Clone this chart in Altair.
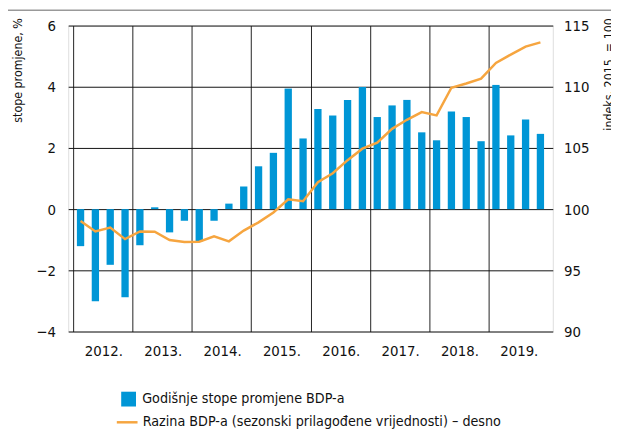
import altair as alt
import pandas as pd

years = [2012, 2013, 2014, 2015, 2016, 2017, 2018, 2019]
quarters = ["I.", "II.", "III.", "IV."]

# Annual growth rates of GDP, % (quarterly)
gdp_growth = [
    -1.21, -3.01, -1.82, -2.88,
    -1.18, 0.06, -0.76, -0.38,
    -1.05, -0.38, 0.18, 0.74,
    1.40, 1.84, 3.94, 2.31,
    3.27, 3.06, 3.57, 3.99,
    3.01, 3.39, 3.57, 2.51,
    2.25, 3.19, 3.01, 2.22,
    4.06, 2.41, 2.93, 2.46,
]

# GDP level, seasonally adjusted, index 2015 = 100
gdp_index = [
    99.03, 98.17, 98.49, 97.55,
    98.17, 98.15, 97.47, 97.31,
    97.34, 97.77, 97.37, 98.25,
    98.92, 99.73, 100.81, 100.65,
    102.20, 102.93, 104.00, 104.94,
    105.43, 106.56, 107.30, 107.93,
    107.66, 109.92, 110.27, 110.67,
    111.94, 112.63, 113.28, 113.63,
]

bar_label = "Godišnje stope promjene BDP-a"
line_label = "Razina BDP-a (sezonski prilagođene vrijednosti) – desno"

rows = []
for yi, y in enumerate(years):
    for qi, q in enumerate(quarters):
        t = yi * 4 + qi
        rows.append({
            "year": y, "quarter": q, "pos": t + 0.5,
            "growth": gdp_growth[t], "index": gdp_index[t],
            "s1": bar_label, "s2": line_label,
        })
df = pd.DataFrame(rows)

FONT = "DejaVu Sans Condensed, sans-serif"
BLUE = "#0096d6"
ORANGE = "#f6a53f"
TXT = "#111"
W, H = 491, 310
n_q = len(years) * 4

year_arr = "[" + ",".join(str(y) for y in years) + "]"

x_enc = alt.X(
    "pos:Q",
    scale=alt.Scale(domain=[0, n_q], nice=False, zero=False),
    axis=alt.Axis(
        values=list(range(0, n_q, 4)),
        labelExpr=f"{year_arr}[datum.value/4] + '.'",
        labelOffset=W / len(years) / 2,
        labelOverlap=False, labelFlush=False, labelBound=False,
        grid=True, gridColor="#222", gridWidth=1, gridOpacity=1,
        ticks=False, domain=False, title=None,
        labelPadding=12, labelFontSize=15, labelFont=FONT, labelColor=TXT,
    ),
)

bars = alt.Chart(df).mark_bar(size=7.4).encode(
    x=x_enc,
    y=alt.Y(
        "growth:Q",
        scale=alt.Scale(domain=[-4, 6], nice=False),
        axis=alt.Axis(
            orient="left", values=[-4, -2, 0, 2, 4, 6],
            labelExpr="replace(format(datum.value, 'd'), '-', '−')",
            grid=True, gridColor="#111", gridWidth=1, gridOpacity=1,
            ticks=False, domain=False,
            labelPadding=13, labelFontSize=15, labelFont=FONT, labelColor=TXT,
            title="stope promjene, %", titleFont=FONT, titleFontSize=12.5,
            titleFontWeight="normal", titleColor=TXT,
            titleAngle=270, titleAlign="right", titleBaseline="alphabetic",
            titleX=-47, titleY=-8,
        ),
    ),
    fill=alt.Fill(
        "s1:N",
        scale=alt.Scale(domain=[bar_label], range=[BLUE]),
        legend=alt.Legend(
            orient="none", legendX=53.7, legendY=371, title=None,
            symbolType="square", symbolSize=225, symbolStrokeWidth=0,
            labelFont=FONT, labelFontSize=14.4, labelColor=TXT, labelLimit=0,
            labelOffset=6.3, padding=0,
        ),
    ),
)

line = alt.Chart(df).mark_line(strokeWidth=2.5).encode(
    x=alt.X("pos:Q"),
    y=alt.Y(
        "index:Q",
        scale=alt.Scale(domain=[90, 115], nice=False, zero=False),
        axis=alt.Axis(
            orient="right", values=[90, 95, 100, 105, 110, 115],
            grid=False, ticks=False, domain=False,
            labelPadding=11, labelFontSize=15, labelFont=FONT, labelColor=TXT,
            title="indeks, 2015. = 100", titleFont=FONT, titleFontSize=12.5,
            titleFontWeight="normal", titleColor=TXT,
            titleAngle=270, titleAlign="right", titleBaseline="alphabetic",
            titleX=61, titleY=-8,
        ),
    ),
    stroke=alt.Stroke(
        "s2:N",
        scale=alt.Scale(domain=[line_label], range=[ORANGE]),
        legend=alt.Legend(
            orient="none", legendX=47.75, legendY=390, title=None,
            symbolType="stroke", symbolSize=441, symbolStrokeWidth=2.5,
            labelFont=FONT, labelFontSize=14.4, labelColor=TXT, labelLimit=0,
            labelOffset=3.75, padding=0,
        ),
    ),
)

top_rule = alt.Chart(pd.DataFrame({"a": [0]})).mark_rule(
    color="#999", strokeWidth=1.5
).encode(x=alt.value(-61), x2=alt.value(550), y=alt.value(-15.5))

chart = (
    alt.layer(bars, line, top_rule)
    .resolve_scale(y="independent")
    .properties(
        width=W, height=H,
        autosize=alt.AutoSizeParams(type="none"),
        padding={"left": 61, "top": 15, "right": 59, "bottom": 97},
    )
    .configure_view(stroke="#111", strokeWidth=1)
    .configure(background="white")
)

chart.save("out.html", embed_options={"renderer": "svg", "actions": False})
